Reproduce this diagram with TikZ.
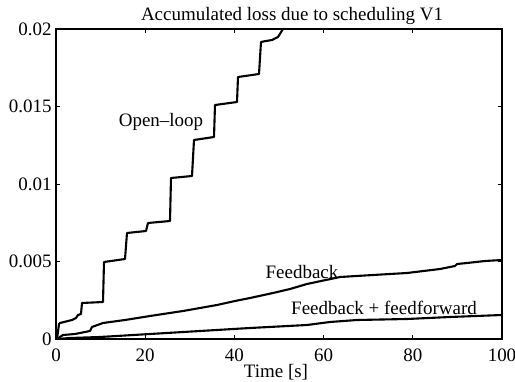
\documentclass[tikz,border=0pt]{standalone}
\usepackage{fontspec}
\setmainfont{Liberation Serif}
\begin{document}
\begin{tikzpicture}[x=0.02cm,y=-0.02cm,
  lbl/.style={inner sep=0pt,font=\fontsize{10.8}{12}\selectfont},
  curve/.style={line width=1.2pt,line join=round},
  axisline/.style={line width=0.7pt},
  tickmark/.style={line width=0.5pt}]
\useasboundingbox (0,0) rectangle (515,382);
% axes box
\draw[axisline] (56,29) rectangle (502,339);
% ticks
\foreach \x in {145.2,234.4,323.6,412.8}{
  \draw[tickmark] (\x,339) -- (\x,335);
  \draw[tickmark] (\x,29) -- (\x,33);
}
\foreach \y in {106.5,184,261.5}{
  \draw[tickmark] (56,\y) -- (60,\y);
  \draw[tickmark] (502,\y) -- (498,\y);
}
% tick labels
\node[lbl,anchor=east] (y0) at (52,339) {0};
\node[lbl,anchor=east] (y1) at (52,261.5) {0.005};
\node[lbl,anchor=east] (y2) at (52,184) {0.01};
\node[lbl,anchor=east] (y3) at (52,106.5) {0.015};
\node[lbl,anchor=east] (y4) at (52,29) {0.02};
\node[lbl] (x0) at (56,355) {0};
\node[lbl] (x1) at (145.2,355) {20};
\node[lbl] (x2) at (234.4,355) {40};
\node[lbl] (x3) at (323.6,355) {60};
\node[lbl] (x4) at (412.8,355) {80};
\node[lbl] (x5) at (502,355) {100};
% titles
\node[lbl] (title) at (292,16) {Accumulated loss due to scheduling V1};
\node[lbl] (xlabel) at (276,372) {Time [s]};
% curves
\begin{scope}
\clip (56,29) rectangle (502,339);
\draw[curve] (57,339) -- (59,324) -- (60,323) -- (72,320) -- (76,318) -- (78,315) -- (81,314) -- (82,303) -- (103,302) -- (104,262) -- (125,259) -- (127,233) -- (146,231) -- (148,223) -- (170,221) -- (171,178) -- (192,176) -- (194,140) -- (214,137) -- (215,105) -- (237,102) -- (238,77) -- (259,74) -- (261,42) -- (266,41) -- (272,40) -- (278,37) -- (283,29);
\draw[curve] (57,339) -- (60,337) -- (63,335) -- (75,334) -- (90,331) -- (92,327) -- (103,323) -- (125,320) -- (150,316) -- (183,311) -- (200,308) -- (217,305) -- (235,301) -- (250,298) -- (273,293) -- (290,289) -- (307,284) -- (340,277) -- (373,275) -- (407,273) -- (440,269) -- (455,266) -- (457,264) -- (467,263) -- (485,261) -- (502,260);
\draw[curve] (57,339) -- (70,338) -- (100,337) -- (150,334) -- (200,331) -- (250,328) -- (307,325) -- (330,322) -- (357,320) -- (407,319) -- (450,317) -- (502,315);
\end{scope}
% curve labels
\node[lbl] (ol) at (161,122) {Open–loop};
\node[lbl] (fb) at (302,272) {Feedback};
\node[lbl] (ff) at (384,308) {Feedback + feedforward};
\end{tikzpicture}
\end{document}
